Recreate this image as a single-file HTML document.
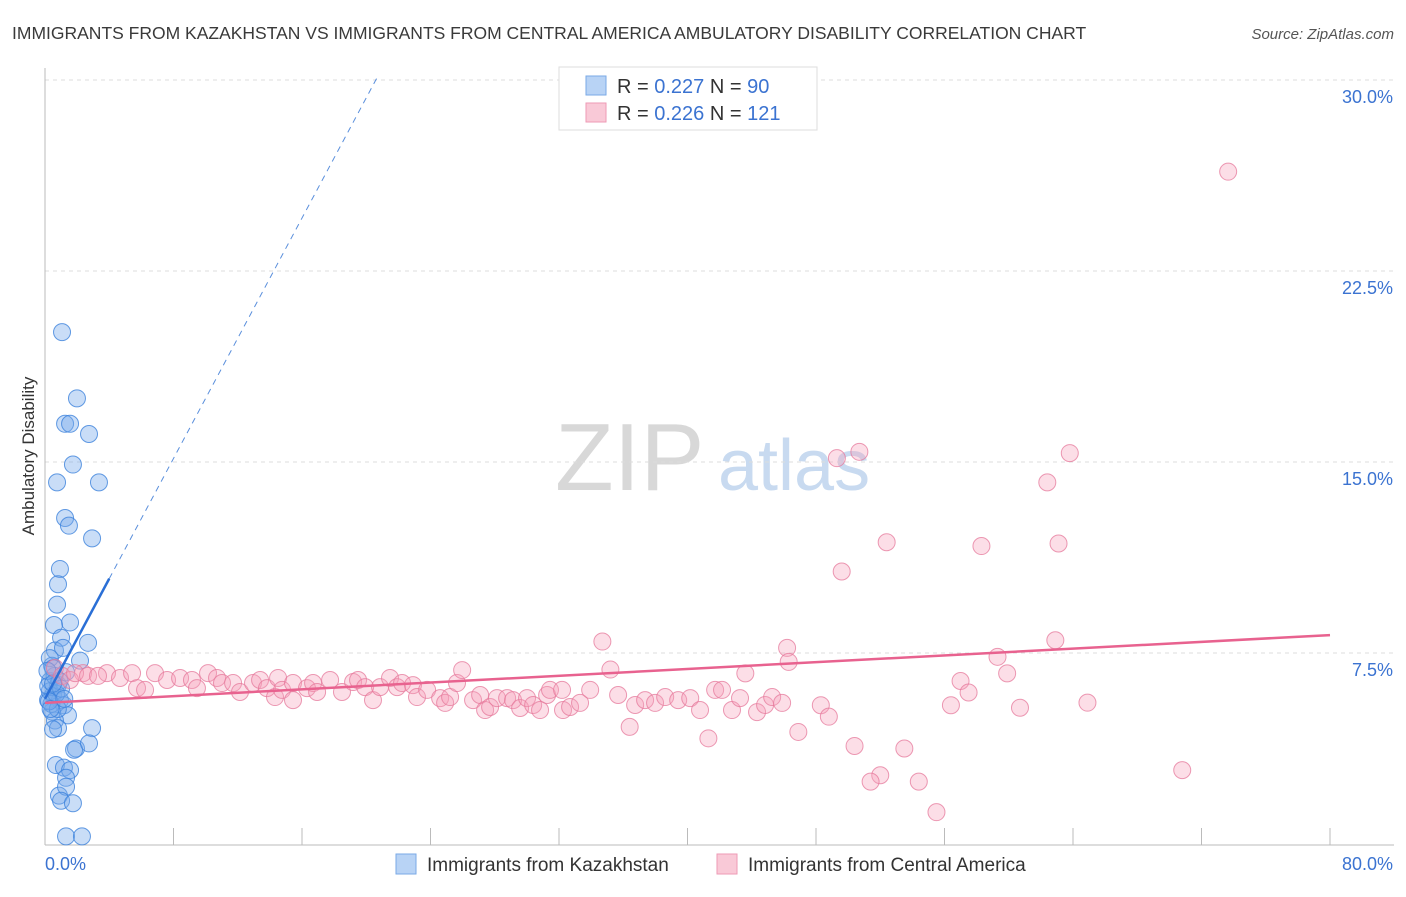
<!DOCTYPE html>
<html><head><meta charset="utf-8"><style>
body{margin:0;background:#fff;font-family:"Liberation Sans",sans-serif;}
svg text{font-family:"Liberation Sans",sans-serif;}
</style></head><body>
<svg id="chart" width="1406" height="892" viewBox="0 0 1406 892" xmlns="http://www.w3.org/2000/svg">
<text x="12" y="39" font-size="17.5" fill="#3a3a3a">IMMIGRANTS FROM KAZAKHSTAN VS IMMIGRANTS FROM CENTRAL AMERICA AMBULATORY DISABILITY CORRELATION CHART</text>
<text x="1394" y="39" font-size="15" font-style="italic" fill="#555" text-anchor="end">Source: ZipAtlas.com</text>
<g>
<text x="555" y="490" font-size="96" font-family="Liberation Serif" fill="#d8d8d8">ZIP</text>
<text x="718" y="490" font-size="72" fill="#c8daf0">atlas</text>
</g>
<g id="grid"></g>
<g id="axes"></g>
<g id="blue"></g>
<g id="pink"></g>
<g id="trend"></g>
<text transform="translate(34,456) rotate(-90)" font-size="17" fill="#333" text-anchor="middle">Ambulatory Disability</text>
<g>
<rect x="559" y="67" width="258" height="63" fill="#fff" stroke="#ddd"/>
<rect x="586" y="76" width="20" height="19" fill="#b8d3f5" stroke="#7aa9e6"/>
<rect x="586" y="103" width="20" height="19" fill="#f9c9d7" stroke="#ee9ab5"/>
<text x="617" y="93" font-size="20" fill="#333">R = <tspan fill="#3b73d1">0.227</tspan>   N = <tspan fill="#3b73d1">90</tspan></text>
<text x="617" y="120" font-size="20" fill="#333">R = <tspan fill="#3b73d1">0.226</tspan>   N = <tspan fill="#3b73d1">121</tspan></text>
</g>
<g>
<rect x="396" y="854" width="20" height="20" fill="#b8d3f5" stroke="#7aa9e6"/>
<text x="427" y="871" font-size="19" fill="#333">Immigrants from Kazakhstan</text>
<rect x="717" y="854" width="20" height="20" fill="#f9c9d7" stroke="#ee9ab5"/>
<text x="748" y="871" font-size="19" fill="#333">Immigrants from Central America</text>
</g>
</svg>
<script>
const yTicks=[7.5,15,22.5,30];
const yTickLabels=["7.5%","15.0%","22.5%","30.0%"];
const xTickCount=10;
const xAxisLabels=["0.0%","80.0%"];
const blueX=[1.06,1.99,1.25,1.56,2.74,1.74,0.75,3.36,1.25,1.49,2.93,0.93,0.81,0.75,1.56,0.56,1.0,2.68,0.62,1.12,2.18,0.44,1.31,0.31,0.81,0.5,0.19,0.93,1.18,0.44,1.43,0.62,0.81,2.93,0.5,1.93,1.81,2.74,0.68,1.18,1.56,1.31,0.87,1.31,1.0,1.74,1.31,2.3,0.3,0.4,0.2,0.6,0.3,0.8,0.5,0.7,0.25,0.9,1.0,0.15,0.35,1.2,0.5];
const blueY=[20.1,17.5,16.5,16.5,16.1,14.9,14.2,14.2,12.8,12.5,12.0,10.8,10.2,9.4,8.7,8.6,8.1,7.9,7.6,7.7,7.2,7.0,6.75,6.4,6.25,5.85,5.65,5.65,5.45,5.2,5.05,4.85,4.55,4.55,4.5,3.75,3.7,3.95,3.1,3.0,2.9,2.6,1.9,2.25,1.7,1.6,0.3,0.3,6.0,5.5,6.2,6.6,7.3,5.3,6.9,5.9,5.6,6.4,6.1,6.8,5.3,5.7,6.3];
const pinkX=[73.66,49.3,50.7,63.8,62.4,52.4,58.3,63.1,49.6,34.7,46.2,62.9,59.3,46.3,35.2,43.6,59.9,57.0,57.5,56.4,60.7,64.9,48.3,48.8,46.9,41.3,36.4,50.4,53.5,52.0,51.4,54.4,55.5,70.8,
2.37,3.86,4.67,5.42,5.73,6.23,6.85,7.6,8.41,9.15,9.46,10.15,10.71,11.02,11.71,12.14,12.95,13.39,13.82,14.32,14.51,14.76,15.44,15.44,16.31,16.69,16.94,17.75,18.49,19.18,19.49,19.93,20.42,20.86,21.48,21.92,22.23,22.91,23.16,23.79,24.6,24.91,25.22,25.65,25.97,26.65,27.09,27.4,27.71,28.14,28.77,29.14,29.58,30.01,30.39,30.82,31.26,31.44,32.19,32.25,32.69,33.31,33.94,35.68,36.74,37.36,37.98,38.61,39.42,40.17,40.78,41.72,42.15,42.77,43.27,44.33,44.83,45.27,45.89,0.62,1.06,1.56,1.87,2.68,3.3];
const pinkY=[26.4,15.15,15.4,15.35,14.2,11.85,11.7,11.8,10.7,7.95,7.7,8.0,7.35,7.15,6.85,6.7,6.7,6.4,5.95,5.45,5.35,5.55,5.45,5.0,4.4,4.15,4.6,3.85,3.75,2.7,2.45,2.45,1.25,2.9,
6.71,6.71,6.52,6.71,6.12,6.05,6.71,6.44,6.52,6.44,6.12,6.71,6.52,6.32,6.32,5.97,6.32,6.44,6.12,5.77,6.52,6.05,6.32,5.65,6.12,6.32,5.97,6.44,5.97,6.36,6.44,6.16,5.65,6.16,6.52,6.16,6.32,6.24,5.77,6.05,5.73,5.54,5.77,6.32,6.83,5.65,5.85,5.26,5.38,5.73,5.73,5.65,5.34,5.73,5.46,5.26,5.85,6.05,6.05,5.26,5.38,5.54,6.05,5.85,5.46,5.65,5.54,5.77,5.65,5.73,5.26,6.05,6.05,5.26,5.73,5.18,5.46,5.77,5.54,6.91,6.6,6.44,6.71,6.6,6.6];
const blueTrend={a:5.7,b:1.18,solidEnd:4,dashEnd:20.7};
const pinkTrend={a:5.54,b:0.0333,end:80};
const NS="http://www.w3.org/2000/svg";
const L=45,R=1330,T=80,B=844;
const xS=v=>L+v/80*(R-L);
const yS=v=>B-v/30*(B-T);
function mk(tag,attrs,parent){const e=document.createElementNS(NS,tag);for(const k in attrs)e.setAttribute(k,attrs[k]);document.getElementById(parent).appendChild(e);return e;}
yTicks.forEach((t,i)=>{
 const g=mk('line',{x1:L,x2:1394,y1:yS(t),y2:yS(t),stroke:'#ddd','stroke-dasharray':'4,4'},'grid');
 
 
 const tx=mk('text',{x:1393,y:yS(t)+23,'font-size':18,fill:'#3b73d1','text-anchor':'end'},'axes');
 tx.textContent=yTickLabels[i];
 
 
});
const ax=mk('line',{x1:L,x2:L,y1:68,y2:845,stroke:'#bbb'},'axes');


const bx=mk('line',{x1:L,x2:1394,y1:845,y2:845,stroke:'#bbb'},'axes');


for(let i=1;i<=xTickCount;i++){
 const tk=mk('line',{x1:xS(i*8),x2:xS(i*8),y1:828,y2:845,stroke:'#bbb'},'axes');
 
 
}
const xl0=mk('text',{x:45,y:870,'font-size':18,fill:'#3b73d1'},'axes');xl0.textContent=xAxisLabels[0];


const xl1=mk('text',{x:1393,y:870,'font-size':18,fill:'#3b73d1','text-anchor':'end'},'axes');xl1.textContent=xAxisLabels[1];


blueX.forEach((v,i)=>{
 const c=mk('circle',{cx:xS(v),cy:yS(blueY[i]),r:8.5,fill:'rgba(120,170,235,0.4)',stroke:'rgba(60,130,220,0.8)','stroke-width':1},'blue');
 
 
});
pinkX.forEach((v,i)=>{
 const c=mk('circle',{cx:xS(v),cy:yS(pinkY[i]),r:8.5,fill:'rgba(245,160,185,0.35)',stroke:'rgba(230,120,155,0.75)','stroke-width':1},'pink');
 
 
});
const pl=mk('line',{x1:xS(0),y1:yS(pinkTrend.a),x2:xS(pinkTrend.end),y2:yS(pinkTrend.a+pinkTrend.b*pinkTrend.end),stroke:'#e8628f','stroke-width':2.5},'trend');


const bl=mk('line',{x1:xS(0),y1:yS(blueTrend.a),x2:xS(blueTrend.solidEnd),y2:yS(blueTrend.a+blueTrend.b*blueTrend.solidEnd),stroke:'#2a6fd6','stroke-width':2.5},'trend');


const bd=mk('line',{x1:xS(blueTrend.solidEnd),y1:yS(blueTrend.a+blueTrend.b*blueTrend.solidEnd),x2:xS(blueTrend.dashEnd),y2:yS(blueTrend.a+blueTrend.b*blueTrend.dashEnd),stroke:'#5a8fdc','stroke-width':1,'stroke-dasharray':'6,5'},'trend');


</script>
</body></html>
